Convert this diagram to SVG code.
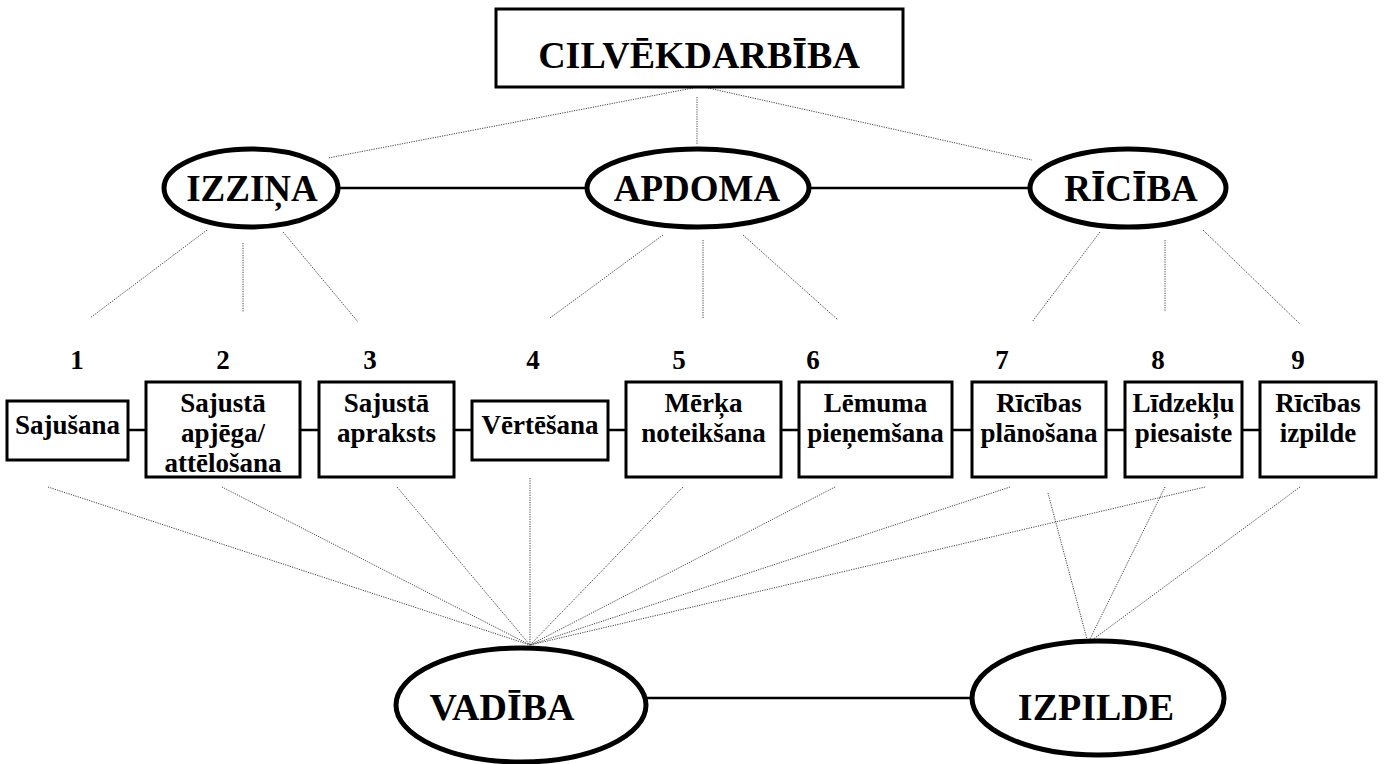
<svg xmlns="http://www.w3.org/2000/svg" width="1385" height="764" viewBox="0 0 1385 764" font-family="'Liberation Serif', 'DejaVu Serif', serif">
<style>
text{font-family:'Liberation Serif','DejaVu Serif',serif;font-weight:bold;fill:#000;text-anchor:middle}
.big{font-size:38px}
.ell{font-size:37px}
.num{font-size:27px}
.lbl{font-size:27px}
.box{fill:#fff;stroke:#000;stroke-width:3}
.oval{fill:#fff;stroke:#000;stroke-width:5}
.solid{stroke:#000;stroke-width:2.5;fill:none}
.dot{stroke:#444;stroke-width:1;stroke-dasharray:1.2 1.2;fill:none}
</style>
<rect width="1385" height="764" fill="#fff"/>
<g id="connectors">
<line class="dot" x1="693" y1="88" x2="328" y2="158"/>
<line class="dot" x1="697" y1="97" x2="697" y2="145"/>
<line class="dot" x1="708" y1="88" x2="1032" y2="160"/>
<line class="solid" x1="338" y1="188" x2="587" y2="188"/>
<line class="solid" x1="810" y1="188" x2="1030" y2="188"/>
<line class="dot" x1="207" y1="230" x2="90" y2="318"/>
<line class="dot" x1="243" y1="243" x2="243" y2="312"/>
<line class="dot" x1="283" y1="232" x2="358" y2="322"/>
<line class="dot" x1="663" y1="235" x2="550" y2="318"/>
<line class="dot" x1="703" y1="240" x2="703" y2="318"/>
<line class="dot" x1="743" y1="235" x2="838" y2="320"/>
<line class="dot" x1="1100" y1="232" x2="1032" y2="322"/>
<line class="dot" x1="1165" y1="240" x2="1165" y2="312"/>
<line class="dot" x1="1203" y1="230" x2="1300" y2="324"/>
<line class="solid" x1="128" y1="430" x2="146" y2="430"/>
<line class="solid" x1="300" y1="430" x2="319" y2="430"/>
<line class="solid" x1="454" y1="430" x2="472" y2="430"/>
<line class="solid" x1="608" y1="430" x2="626" y2="430"/>
<line class="solid" x1="781" y1="430" x2="799" y2="430"/>
<line class="solid" x1="952" y1="430" x2="972" y2="430"/>
<line class="solid" x1="1106" y1="430" x2="1125" y2="430"/>
<line class="solid" x1="1242" y1="430" x2="1260" y2="430"/>
<line class="dot" x1="48" y1="487" x2="530" y2="645"/>
<line class="dot" x1="222" y1="487" x2="530" y2="645"/>
<line class="dot" x1="397" y1="487" x2="530" y2="645"/>
<line class="dot" x1="530" y1="478" x2="530" y2="645"/>
<line class="dot" x1="683" y1="487" x2="530" y2="645"/>
<line class="dot" x1="835" y1="487" x2="530" y2="645"/>
<line class="dot" x1="1010" y1="487" x2="530" y2="645"/>
<line class="dot" x1="1205" y1="487" x2="530" y2="645"/>
<line class="dot" x1="1048" y1="493" x2="1088" y2="643"/>
<line class="dot" x1="1165" y1="487" x2="1088" y2="643"/>
<line class="dot" x1="1300" y1="487" x2="1088" y2="643"/>
<line class="solid" x1="647" y1="698" x2="972" y2="698"/>
</g>
<g id="cilvekdarbiba">
<rect class="box" x="496" y="9" width="407" height="78"/>
<text class="big" x="699" y="68">CILVĒKDARBĪBA</text>
</g>
<g id="izzina">
<ellipse class="oval" cx="251" cy="188" rx="87" ry="39"/>
<text class="ell" x="252" y="201">IZZIŅA</text>
</g>
<g id="apdoma">
<ellipse class="oval" cx="698" cy="188" rx="111" ry="39"/>
<text class="ell" x="697" y="201">APDOMA</text>
</g>
<g id="riciba">
<ellipse class="oval" cx="1128" cy="188" rx="98" ry="39"/>
<text class="ell" x="1131" y="201">RĪCĪBA</text>
</g>
<g id="numbers">
<text class="num" x="77" y="369">1</text>
<text class="num" x="223" y="369">2</text>
<text class="num" x="370" y="369">3</text>
<text class="num" x="533" y="369">4</text>
<text class="num" x="679" y="369">5</text>
<text class="num" x="813" y="369">6</text>
<text class="num" x="1002" y="369">7</text>
<text class="num" x="1158" y="369">8</text>
<text class="num" x="1298" y="369">9</text>
</g>
<g id="n1">
<rect class="box" x="7" y="401" width="121" height="59"/>
<text class="lbl" x="67.5" y="434">Sajušana</text>
</g>
<g id="n2">
<rect class="box" x="146" y="382" width="154" height="95"/>
<text class="lbl" x="223" y="412">Sajustā</text>
<text class="lbl" x="223" y="442">apjēga/</text>
<text class="lbl" x="223" y="472">attēlošana</text>
</g>
<g id="n3">
<rect class="box" x="319" y="382" width="135" height="95"/>
<text class="lbl" x="386.5" y="412">Sajustā</text>
<text class="lbl" x="386.5" y="442">apraksts</text>
</g>
<g id="n4">
<rect class="box" x="472" y="401" width="136" height="59"/>
<text class="lbl" x="540" y="434">Vērtēšana</text>
</g>
<g id="n5">
<rect class="box" x="626" y="382" width="155" height="95"/>
<text class="lbl" x="703.5" y="412">Mērķa</text>
<text class="lbl" x="703.5" y="442">noteikšana</text>
</g>
<g id="n6">
<rect class="box" x="799" y="382" width="153" height="95"/>
<text class="lbl" x="875.5" y="412">Lēmuma</text>
<text class="lbl" x="875.5" y="442">pieņemšana</text>
</g>
<g id="n7">
<rect class="box" x="972" y="382" width="134" height="95"/>
<text class="lbl" x="1039" y="412">Rīcības</text>
<text class="lbl" x="1039" y="442">plānošana</text>
</g>
<g id="n8">
<rect class="box" x="1125" y="382" width="117" height="95"/>
<text class="lbl" x="1183.5" y="412">Līdzekļu</text>
<text class="lbl" x="1183.5" y="442">piesaiste</text>
</g>
<g id="n9">
<rect class="box" x="1260" y="382" width="116" height="95"/>
<text class="lbl" x="1318" y="412">Rīcības</text>
<text class="lbl" x="1318" y="442">izpilde</text>
</g>
<g id="vadiba">
<ellipse class="oval" cx="521" cy="705" rx="125" ry="57"/>
<text class="big" x="502" y="720">VADĪBA</text>
</g>
<g id="izpilde">
<ellipse class="oval" cx="1098" cy="698" rx="126" ry="57"/>
<text class="big" x="1096" y="720">IZPILDE</text>
</g>
</svg>
